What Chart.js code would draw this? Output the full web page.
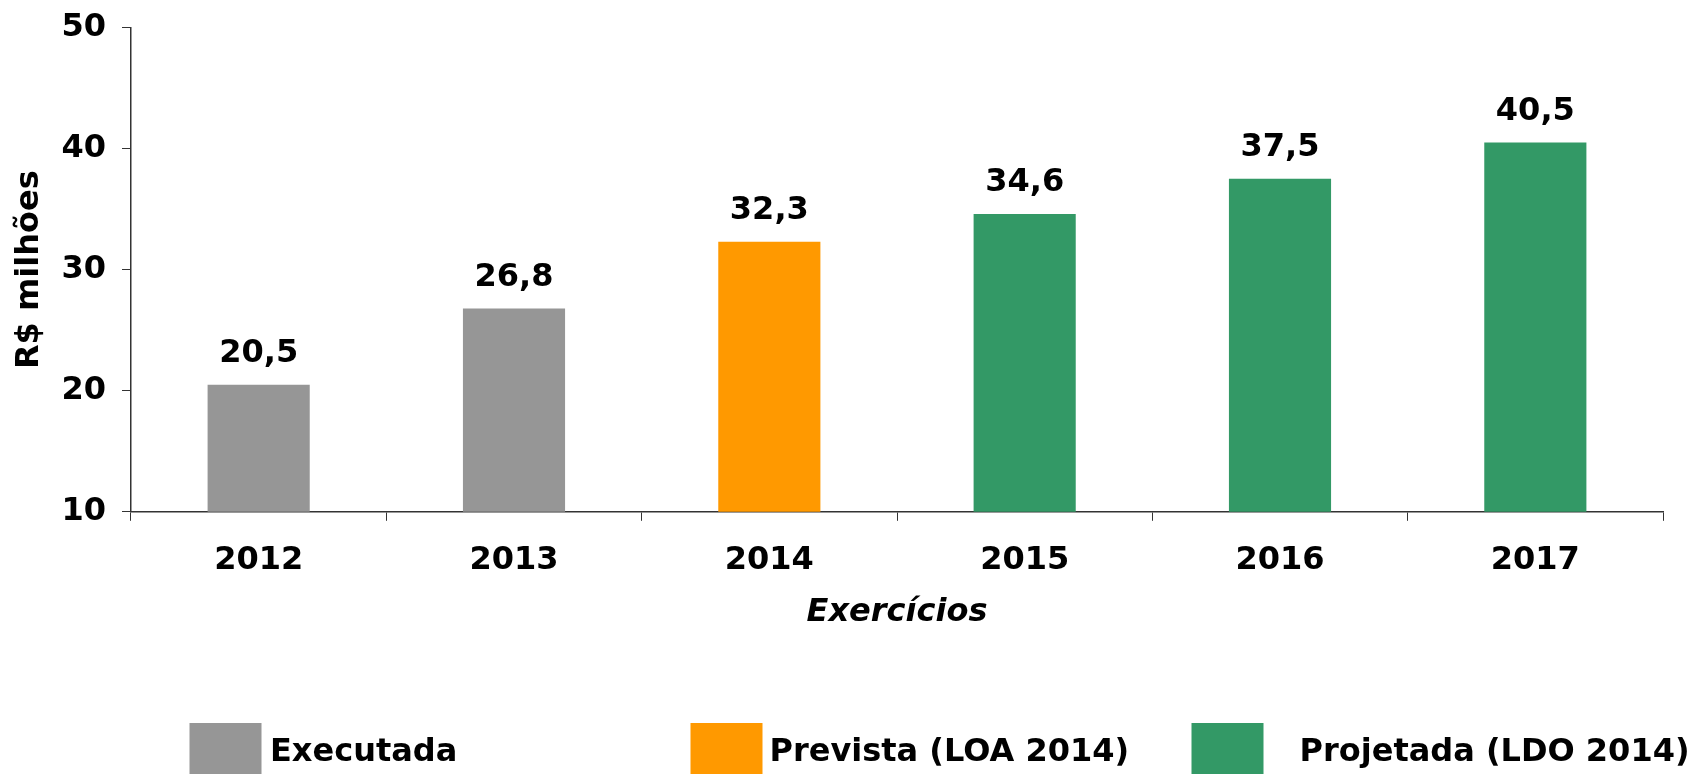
<!DOCTYPE html>
<html lang="pt-BR">
<head>
<meta charset="utf-8">
<title>Exercícios</title>
<script src="https://cdn.jsdelivr.net/npm/chart.js@4/dist/chart.umd.min.js"></script>
<style>
  html, body { margin: 0; padding: 0; background: #fff; }
  #chart { display: block; }
</style>
</head>
<body>
<canvas id="chart" width="1691" height="774"></canvas>
<script>
// Data
const years = ['2012', '2013', '2014', '2015', '2016', '2017'];
const values = [20.5, 26.8, 32.3, 34.6, 37.5, 40.5];
const seriesNames = ['Executada', 'Prevista (LOA 2014)', 'Projetada (LDO 2014)'];
const seriesOfYear = [0, 0, 1, 2, 2, 2];
const yTicks = [10, 20, 30, 40, 50];

const seriesColors = ['#969696', '#FF9900', '#339966'];
const FONT = '"DejaVu Sans", Verdana, sans-serif';
const AXIS_COLOR = '#333333';

// value labels over the bars, "20,5" style
const barLabels = {
    id: 'barLabels',
    afterDatasetsDraw(chart) {
        const ctx = chart.ctx;
        const meta = chart.getDatasetMeta(0);
        ctx.save();
        ctx.font = 'bold 32px ' + FONT;
        ctx.fillStyle = '#000';
        ctx.textAlign = 'center';
        ctx.textBaseline = 'alphabetic';
        meta.data.forEach((bar, i) => {
            const txt = values[i].toFixed(1).replace('.', ',');
            ctx.fillText(txt, bar.x, bar.y - 22.5);
        });
        ctx.restore();
    }
};

// legend at the bottom, three evenly spaced items
const bottomLegend = {
    id: 'bottomLegend',
    afterDraw(chart) {
        const ctx = chart.ctx;
        const textGap = [80.5, 79, 108];
        ctx.save();
        ctx.font = 'bold 32px ' + FONT;
        ctx.textBaseline = 'alphabetic';
        ctx.textAlign = 'left';
        seriesNames.forEach((name, i) => {
            const x = 189.5 + i * 501;
            ctx.fillStyle = seriesColors[i];
            ctx.fillRect(x, 723, 72, 60);
            ctx.fillStyle = '#000';
            ctx.fillText(name, x + textGap[i], 761);
        });
        ctx.restore();
    }
};

const ctx = document.getElementById('chart').getContext('2d');
new Chart(ctx, {
    type: 'bar',
    data: {
        labels: years,
        datasets: [{
            data: values,
            backgroundColor: seriesOfYear.map(s => seriesColors[s]),
            borderWidth: 0,
            barPercentage: 0.4,
            categoryPercentage: 1.0
        }]
    },
    options: {
        responsive: false,
        animation: false,
        events: [],
        layout: {
            padding: { left: 0, top: 27.5, right: 28, bottom: 132.2 }
        },
        plugins: {
            legend: { display: false },
            tooltip: { enabled: false }
        },
        scales: {
            x: {
                afterFit(scale) { scale.height = 130; },
                grid: {
                    display: true,
                    drawOnChartArea: false,
                    drawTicks: true,
                    tickLength: 9,
                    color: AXIS_COLOR,
                    offset: true
                },
                border: { display: true, color: AXIS_COLOR, width: 1.5 },
                ticks: {
                    color: '#000',
                    padding: 21,
                    font: { family: FONT, size: 32, weight: 'bold' }
                },
                title: {
                    display: true,
                    text: 'Exercícios',
                    color: '#000',
                    padding: { top: 0, bottom: 10 },
                    font: { family: FONT, size: 32, weight: 'bold', style: 'italic' }
                }
            },
            y: {
                min: yTicks[0],
                max: yTicks[yTicks.length - 1],
                afterFit(scale) {
                    scale.width = 131;
                    // top label may overhang the plot, like the original
                    scale.paddingTop = 0;
                    scale.paddingBottom = 0;
                },
                afterBuildTicks(scale) {
                    scale.ticks = yTicks.map(v => ({ value: v }));
                },
                grid: {
                    display: true,
                    drawOnChartArea: false,
                    drawTicks: true,
                    tickLength: 9,
                    color: AXIS_COLOR
                },
                border: { display: true, color: AXIS_COLOR, width: 1.5 },
                ticks: {
                    color: '#000',
                    padding: 16,
                    font: { family: FONT, size: 32, weight: 'bold' }
                },
                title: {
                    display: true,
                    text: 'R$ milhões',
                    color: '#000',
                    padding: { top: 10.3, bottom: 0 },
                    font: { family: FONT, size: 32, weight: 'bold' }
                }
            }
        }
    },
    plugins: [barLabels, bottomLegend]
});
</script>
</body>
</html>
